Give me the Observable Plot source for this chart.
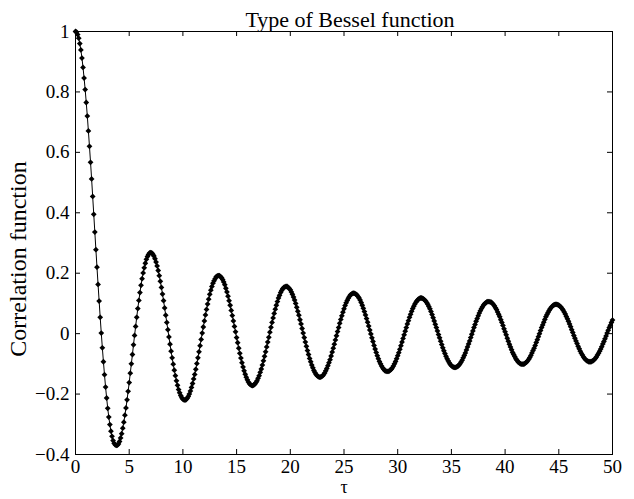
<!DOCTYPE html>
<html><head><meta charset="utf-8">
<script src="https://cdn.jsdelivr.net/npm/d3@7"></script>
<script src="https://cdn.jsdelivr.net/npm/@observablehq/plot@0.6"></script>
<style>
body{margin:0;background:#fff}
#chart svg, #chart svg text { font-family: 'Liberation Serif', 'Times New Roman', serif !important; }
</style>
</head><body><div id="chart"></div>
<script>
const chartTitle = "Type of Bessel function";
const xLabel = "τ";
const yLabel = "Correlation function";
const tauStep = 0.1;
// correlation values at tau = 0, 0.1, 0.2, ... 50 (one row per unit of tau)
const correlation = [
 1.000, .998, .990, .978, .960, .939, .912, .881, .846, .808,
 .765, .720, .671, .620, .567, .512, .454, .395, .336, .278,
 .220, .163, .108, .054, .002, -.047, -.093, -.136, -.177, -.213,
 -.247, -.276, -.301, -.323, -.340, -.354, -.363, -.368, -.370, -.369,
 -.365, -.357, -.345, -.331, -.313, -.293, -.270, -.246, -.219, -.191,
 -.162, -.131, -.100, -.069, -.037, -.006, .024, .054, .083, .110,
 .136, .160, .182, .201, .218, .233, .246, .255, .262, .267,
 .268, .267, .263, .257, .248, .237, .224, .209, .192, .173,
 .153, .131, .109, .085, .061, .037, .013, -.011, -.035, -.058,
 -.080, -.101, -.121, -.139, -.156, -.171, -.185, -.196, -.205, -.212,
 -.217, -.219, -.220, -.218, -.214, -.208, -.200, -.190, -.178, -.165,
 -.150, -.135, -.118, -.099, -.080, -.060, -.040, -.019, .002, .022,
 .042, .062, .080, .098, .114, .130, .144, .156, .167, .175,
 .182, .188, .191, .192, .192, .189, .185, .179, .171, .162,
 .150, .138, .124, .109, .094, .077, .060, .042, .024, .006,
 -.013, -.030, -.048, -.065, -.081, -.096, -.110, -.123, -.134, -.144,
 -.153, -.160, -.166, -.169, -.171, -.172, -.170, -.167, -.162, -.156,
 -.148, -.139, -.128, -.117, -.104, -.090, -.075, -.060, -.044, -.028,
 -.012, .005, .021, .037, .052, .067, .081, .094, .106, .118,
 .127, .136, .143, .149, .153, .155, .156, .156, .153, .150,
 .145, .138, .130, .121, .111, .100, .087, .074, .061, .046,
 .032, .017, .002, -.013, -.028, -.042, -.056, -.069, -.082, -.093,
 -.104, -.113, -.122, -.129, -.135, -.139, -.142, -.144, -.144, -.142,
 -.140, -.136, -.130, -.123, -.115, -.106, -.096, -.086, -.074, -.061,
 -.048, -.035, -.021, -.007, .007, .020, .034, .047, .059, .071,
 .082, .093, .102, .110, .117, .123, .128, .131, .133, .134,
 .133, .131, .128, .123, .118, .111, .103, .094, .084, .073,
 .062, .050, .038, .025, .012, -.001, -.014, -.026, -.039, -.051,
 -.062, -.073, -.083, -.092, -.100, -.107, -.113, -.118, -.122, -.124,
 -.125, -.125, -.124, -.121, -.118, -.113, -.107, -.100, -.092, -.083,
 -.073, -.063, -.052, -.040, -.028, -.016, -.004, .008, .020, .032,
 .043, .054, .064, .074, .083, .091, .098, .104, .109, .113,
 .116, .118, .118, .117, .115, .112, .108, .103, .097, .090,
 .082, .073, .063, .053, .042, .031, .020, .009, -.003, -.014,
 -.025, -.036, -.047, -.057, -.066, -.075, -.083, -.090, -.096, -.102,
 -.106, -.109, -.111, -.112, -.112, -.110, -.108, -.104, -.100, -.094,
 -.088, -.080, -.072, -.064, -.054, -.044, -.034, -.024, -.013, -.002,
 .009, .020, .030, .041, .050, .059, .068, .076, .083, .089,
 .095, .099, .102, .105, .106, .106, .105, .104, .101, .097,
 .092, .086, .080, .072, .064, .056, .046, .037, .027, .016,
 .006, -.004, -.015, -.025, -.035, -.044, -.053, -.062, -.069, -.076,
 -.083, -.088, -.093, -.096, -.099, -.101, -.101, -.101, -.100, -.097,
 -.094, -.090, -.085, -.079, -.072, -.064, -.056, -.048, -.039, -.029,
 -.020, -.010, .000, .010, .020, .029, .038, .047, .056, .063,
 .070, .077, .082, .087, .091, .094, .096, .097, .097, .096,
 .094, .091, .088, .083, .078, .072, .065, .057, .049, .041,
 .032, .023, .013, .004, -.006, -.015, -.024, -.033, -.042, -.050,
 -.058, -.065, -.071, -.077, -.082, -.086, -.089, -.091, -.093, -.093,
 -.093, -.091, -.089, -.086, -.082, -.077, -.071, -.065, -.058, -.051,
 -.043, -.034, -.026, -.017, -.008, .002, .011, .020, .028, .037,
 .045
];
const xTicks = [0, 5, 10, 15, 20, 25, 30, 35, 40, 45, 50];
const xTickLabels = ["0", "5", "10", "15", "20", "25", "30", "35", "40", "45", "50"];
const yTicks = [-0.4, -0.2, 0, 0.2, 0.4, 0.6, 0.8, 1];
const yTickLabels = ["\u22120.4", "\u22120.2", "0", "0.2", "0.4", "0.6", "0.8", "1"];

const data = correlation.map((v, i) => ({tau: +(i * tauStep).toFixed(1), r: v}));
const W = 634, H = 499, mL = 75, mR = 22, mT = 31, mB = 45;
const innerW = W - mL - mR, innerH = H - mT - mB, tickLen = 5;
const serif = "'Liberation Serif', 'Times New Roman', serif";

const plot = Plot.plot({
  width: W, height: H,
  marginLeft: mL, marginRight: mR, marginTop: mT, marginBottom: mB,
  style: {fontFamily: serif, fontSize: "19px", color: "#000", background: "#fff"},
  x: {domain: [0, 50], axis: null},
  y: {domain: [-0.4, 1], axis: null},
  marks: [
    Plot.tickX(xTicks, {x: d => d, insetTop: innerH - tickLen, stroke: "#000"}),
    Plot.tickX(xTicks, {x: d => d, insetBottom: innerH - tickLen, stroke: "#000"}),
    Plot.tickY(yTicks, {y: d => d, insetRight: innerW - tickLen, stroke: "#000"}),
    Plot.tickY(yTicks, {y: d => d, insetLeft: innerW - tickLen, stroke: "#000"}),
    Plot.text(xTicks, {x: d => d, text: (d, i) => xTickLabels[i], frameAnchor: "bottom",
      textAnchor: "middle", lineAnchor: "middle", dy: 12, fontSize: 19, fontFamily: serif}),
    Plot.text(yTicks, {y: d => d, text: (d, i) => yTickLabels[i], frameAnchor: "left",
      textAnchor: "end", lineAnchor: "middle", dx: -6, fontSize: 19, fontFamily: serif}),
    Plot.frame({stroke: "#000", strokeWidth: 1}),
    Plot.line(data, {x: "tau", y: "r", stroke: "#000", strokeWidth: 1}),
    Plot.dot(data, {x: "tau", y: "r", symbol: "diamond2", r: 2.6, fill: "#000", stroke: "none"}),
    Plot.text([chartTitle], {text: d => d, frameAnchor: "top", dx: 6, dy: -20, fontSize: 22, fontFamily: serif}),
    Plot.text([xLabel], {text: d => d, frameAnchor: "bottom", dy: 38, fontSize: 18, fontFamily: serif}),
    Plot.text([yLabel], {text: d => d, frameAnchor: "left", textAnchor: "middle", dx: -57, dy: 16, rotate: -90, fontSize: 24, fontFamily: serif})
  ]
});
document.getElementById("chart").appendChild(plot);
</script>
</body></html>
